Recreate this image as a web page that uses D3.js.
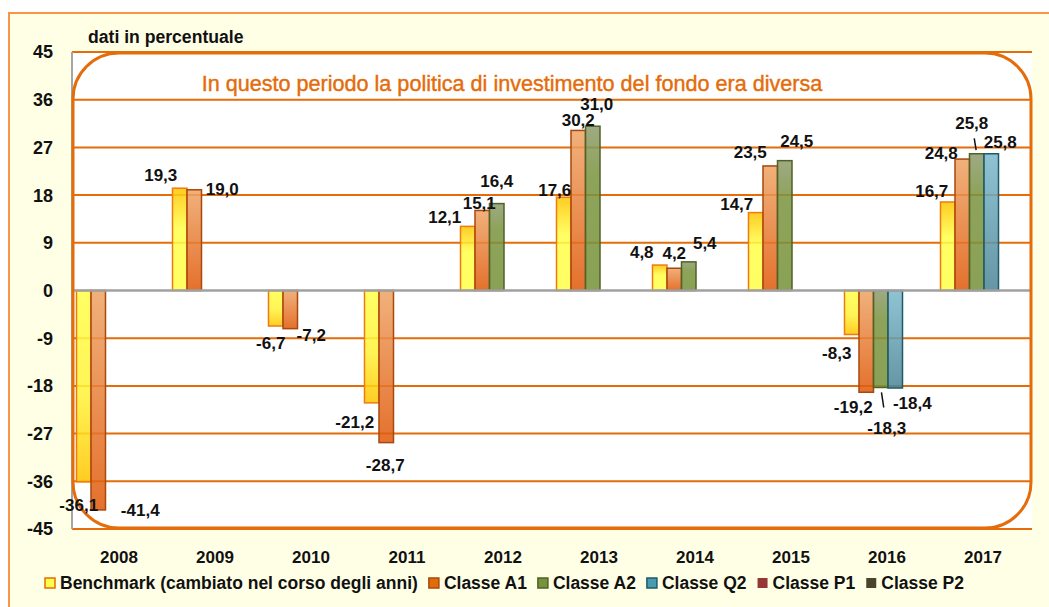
<!DOCTYPE html>
<html>
<head>
<meta charset="utf-8">
<script src="https://cdn.jsdelivr.net/npm/d3@7"></script>
<style>
  body { margin: 0; background: #fff; }
  svg text { font-family: "Liberation Sans", Arial, sans-serif; }
</style>
</head>
<body>
<div id="chart"></div>
<script>
const years = ["2008", "2009", "2010", "2011", "2012", "2013", "2014", "2015", "2016", "2017"];
const seriesNames = ["Benchmark (cambiato nel corso degli anni)", "Classe A1", "Classe A2", "Classe Q2", "Classe P1", "Classe P2"];

const benchmark = [-36.1, 19.3, -6.7, -21.2, 12.1, 17.6, 4.8, 14.7, -8.3, 16.7];
const classeA1 = [-41.4, 19.0, -7.2, -28.7, 15.1, 30.2, 4.2, 23.5, -19.2, 24.8];
const classeA2 = [null, null, null, null, 16.4, 31.0, 5.4, 24.5, -18.3, 25.8];
const classeQ2 = [null, null, null, null, null, null, null, null, -18.4, 25.8];
const classeP1 = [null, null, null, null, null, null, null, null, null, null];
const classeP2 = [null, null, null, null, null, null, null, null, null, null];

const yTicks = [-45, -36, -27, -18, -9, 0, 9, 18, 27, 36, 45];

// label nudges (px from bar end), placed by hand in the original
const nudgeBenchmark = [[-5, 23], [-19, -13], [-5, 17], [-17, 19], [-23, -9], [-9, -7], [-18, -13], [-19, -9], [-15, 18], [-16, -11]];
const nudgeA1 = [[42, 0], [28, -1], [21, 6], [-1, 22], [-3, -8], [0, -11], [0, -15], [-20, -14], [-13, 15], [-21, -6]];
const nudgeA2 = [null, null, null, null, [0, -23], [4, -22], [16, -19], [12, -20], [6, 40], [-5, -31]];
const nudgeQ2 = [null, null, null, null, null, null, null, null, [17, 15], [9, -12]];

const allValues = [benchmark, classeA1, classeA2, classeQ2, classeP1, classeP2];
const allNudges = [nudgeBenchmark, nudgeA1, nudgeA2, nudgeQ2, [], []];
const leaderLines = [[2, 8], [2, 9]]; // [series, year]

const W = 1049, H = 607;
const plot = { left: 72, right: 1032, top: 52, bottom: 529 };

const svg = d3.select("#chart").append("svg")
    .attr("width", W)
    .attr("height", H);

const defs = svg.append("defs");

function grad(id, stops) {
    defs.append("linearGradient")
        .attr("id", id)
        .attr("x1", "0%").attr("y1", "0%")
        .attr("x2", "0%").attr("y2", "100%")
        .selectAll("stop")
        .data(stops)
        .enter()
        .append("stop")
        .attr("offset", d => d[0])
        .attr("stop-color", d => d[1]);
}
grad("g-bench-pos", [["0%", "#FFC400"], ["40%", "#FFFF4A"], ["100%", "#FFFF4A"]]);
grad("g-bench-neg", [["0%", "#FFFF4A"], ["55%", "#FFF23A"], ["100%", "#FFC400"]]);
grad("g-a1", [["0%", "#EEA466"], ["100%", "#E0590A"]]);
grad("g-a2", [["0%", "#8F9B6F"], ["30%", "#7A943E"], ["100%", "#76923A"]]);
grad("g-q2", [["0%", "#7DB9CB"], ["100%", "#4B8597"]]);

const styles = [
    { pos: "url(#g-bench-pos)", neg: "url(#g-bench-neg)", stroke: "#F07A10", legend: "#FFFF4A" },
    { pos: "url(#g-a1)", neg: "url(#g-a1)", stroke: "#A8480C", legend: "#E36C0A" },
    { pos: "url(#g-a2)", neg: "url(#g-a2)", stroke: "#4F6228", legend: "#77933C" },
    { pos: "url(#g-q2)", neg: "url(#g-q2)", stroke: "#215968", legend: "#4A9AB0" },
    { pos: "#953735", neg: "#953735", stroke: "none", legend: "#953735" },
    { pos: "#4A452A", neg: "#4A452A", stroke: "none", legend: "#4A452A" }
];

// outer chart area
svg.append("rect")
    .attr("x", 9).attr("y", 13)
    .attr("width", W + 20).attr("height", H + 20)
    .attr("fill", "#FFFFE6")
    .attr("stroke", "#F79646")
    .attr("stroke-width", 2);

svg.append("rect")
    .attr("x", plot.left).attr("y", plot.top)
    .attr("width", plot.right - plot.left).attr("height", plot.bottom - plot.top)
    .attr("fill", "#fff");

const x0 = d3.scaleBand()
    .domain(years)
    .range([plot.left, plot.right]);

const x1 = d3.scaleBand()
    .domain(d3.range(seriesNames.length))
    .range([0, x0.bandwidth()])
    .paddingOuter(0.31);

const y = d3.scaleLinear()
    .domain([-45, 45])
    .range([plot.bottom, plot.top]);

const locale = d3.formatLocale({ decimal: ",", thousands: ".", grouping: [3], currency: ["", "€"], minus: "-" });
const fmt = locale.format(".1f");

// gridlines
svg.append("g")
    .selectAll("line")
    .data(yTicks.filter(t => t !== 0))
    .enter()
    .append("line")
    .attr("x1", plot.left).attr("x2", plot.right)
    .attr("y1", d => y(d)).attr("y2", d => y(d))
    .attr("stroke", "#E46C0A")
    .attr("stroke-width", 2);

// left axis
svg.append("line")
    .attr("x1", plot.left).attr("x2", plot.left)
    .attr("y1", plot.top).attr("y2", plot.bottom)
    .attr("stroke", "#A6A6A6")
    .attr("stroke-width", 2);

// y tick labels
svg.append("g")
    .selectAll("text")
    .data(yTicks)
    .enter()
    .append("text")
    .attr("x", 53)
    .attr("y", d => y(d))
    .attr("dy", "0.36em")
    .attr("text-anchor", "end")
    .attr("font-size", 18)
    .attr("font-weight", "bold")
    .attr("fill", "#111")
    .text(d => d);

// bars
const barData = [];
allValues.forEach((vals, s) => {
    vals.forEach((v, k) => {
        if (v !== null) barData.push({ s, k, v });
    });
});

svg.append("g")
    .selectAll("rect")
    .data(barData)
    .enter()
    .append("rect")
    .attr("x", d => x0(years[d.k]) + x1(d.s))
    .attr("y", d => y(Math.max(0, d.v)))
    .attr("width", x1.bandwidth())
    .attr("height", d => Math.abs(y(d.v) - y(0)))
    .attr("fill", d => d.v >= 0 ? styles[d.s].pos : styles[d.s].neg)
    .attr("fill-opacity", 0.86)
    .attr("stroke", d => styles[d.s].stroke)
    .attr("stroke-width", 1.5);

// zero line
svg.append("line")
    .attr("x1", plot.left).attr("x2", plot.right)
    .attr("y1", y(0)).attr("y2", y(0))
    .attr("stroke", "#A0A0A0")
    .attr("stroke-width", 2.5);

// callout box spanning the plot
svg.append("rect")
    .attr("x", plot.left + 1).attr("y", plot.top + 1)
    .attr("width", plot.right - plot.left - 2).attr("height", plot.bottom - plot.top - 2)
    .attr("rx", 46).attr("ry", 46)
    .attr("fill", "none")
    .attr("stroke", "#E46C0A")
    .attr("stroke-width", 3);

svg.append("text")
    .attr("x", 512)
    .attr("y", 91)
    .attr("text-anchor", "middle")
    .attr("font-family", "'Liberation Sans Narrow', 'DejaVu Sans Condensed', sans-serif")
    .attr("font-size", 21.6)
    .attr("fill", "#E46C0A")
    .attr("stroke", "#E46C0A")
    .attr("stroke-width", 0.4)
    .text("In questo periodo la politica di investimento del fondo era diversa");

// value labels
const barCenter = d => x0(years[d.k]) + x1(d.s) + x1.bandwidth() / 2;
const labelPos = d => {
    const n = allNudges[d.s][d.k] || [0, d.v >= 0 ? -12 : 12];
    return [barCenter(d) + n[0], y(d.v) + n[1]];
};

svg.append("g")
    .selectAll("text")
    .data(barData)
    .enter()
    .append("text")
    .attr("x", d => labelPos(d)[0])
    .attr("y", d => labelPos(d)[1])
    .attr("dy", "0.36em")
    .attr("text-anchor", "middle")
    .attr("font-size", 17)
    .attr("font-weight", "bold")
    .attr("fill", "#111")
    .text(d => fmt(d.v));

svg.append("g")
    .selectAll("line")
    .data(leaderLines.map(([s, k]) => barData.find(d => d.s === s && d.k === k)))
    .enter()
    .append("line")
    .attr("x1", d => barCenter(d) + (labelPos(d)[0] - barCenter(d)) * 0.12)
    .attr("y1", d => y(d.v) + (labelPos(d)[1] - y(d.v)) * 0.12)
    .attr("x2", d => barCenter(d) + (labelPos(d)[0] - barCenter(d)) * 0.5)
    .attr("y2", d => y(d.v) + (labelPos(d)[1] - y(d.v)) * 0.5)
    .attr("stroke", "#111")
    .attr("stroke-width", 1.5);

// axis title
svg.append("text")
    .attr("x", 88).attr("y", 43)
    .attr("font-size", 17.6)
    .attr("font-weight", "bold")
    .attr("fill", "#111")
    .text("dati in percentuale");

// x labels
svg.append("g")
    .selectAll("text")
    .data(years)
    .enter()
    .append("text")
    .attr("x", d => x0(d) + x0.bandwidth() / 2 - 1)
    .attr("y", 563)
    .attr("text-anchor", "middle")
    .attr("font-size", 17)
    .attr("font-weight", "bold")
    .attr("fill", "#111")
    .text(d => d);

// legend
const legend = svg.append("g");
let lx = 45;
seriesNames.forEach((name, s) => {
    legend.append("rect")
        .attr("x", lx).attr("y", 578)
        .attr("width", 10).attr("height", 10)
        .attr("fill", styles[s].legend)
        .attr("stroke", s === 0 ? "#E46C0A" : (styles[s].stroke === "none" ? "none" : styles[s].stroke))
        .attr("stroke-width", 1.5);
    const t = legend.append("text")
        .attr("x", lx + 15).attr("y", 589)
        .attr("font-size", 17.5)
        .attr("font-weight", "bold")
        .attr("fill", "#111")
        .text(name);
    lx += 15 + t.node().getComputedTextLength() + 11;
});
</script>
</body>
</html>
